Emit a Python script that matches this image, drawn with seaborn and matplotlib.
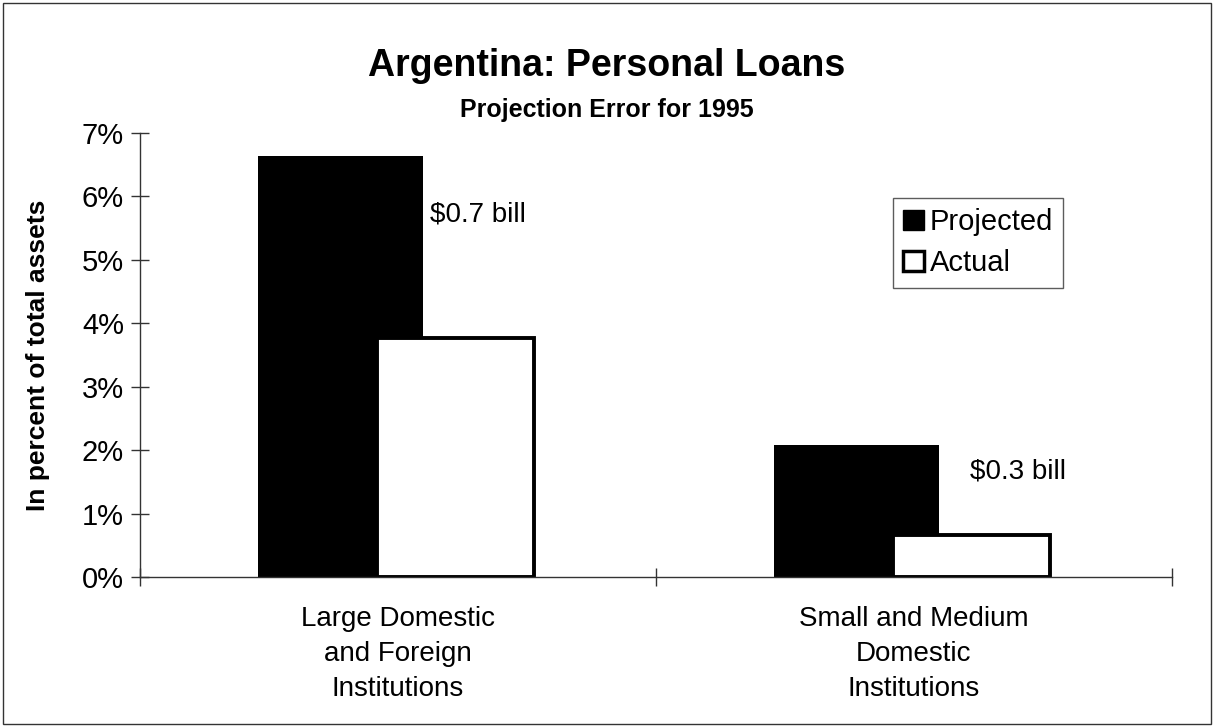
import matplotlib
matplotlib.use("Agg")
import matplotlib.pyplot as plt
import seaborn as sns
import numpy as np
from matplotlib.patches import Patch, Rectangle

categories = ["Large Domestic\nand Foreign\nInstitutions", "Small and Medium\nDomestic\nInstitutions"]
projected = [6.64, 2.08]
actual = [3.77, 0.67]
annotations = ["$0.7 bill", "$0.3 bill"]
yticks = [0, 1, 2, 3, 4, 5, 6, 7]

sns.set_theme(style="white")
plt.rcParams['font.family'] = ['Liberation Sans', 'DejaVu Sans']
plt.rcParams['text.color'] = 'black'
plt.rcParams['axes.labelcolor'] = 'black'
plt.rcParams['xtick.labelcolor'] = 'black'
plt.rcParams['ytick.labelcolor'] = 'black'

fig = plt.figure(figsize=(12.14, 7.27), dpi=100)
ax = fig.add_axes([140/1214, 1-577/727, (1172-140)/1214, (577-133)/727])

idx = np.arange(len(categories))
off = 0.111
sns.barplot(x=idx - off, y=projected, native_scale=True, width=0.32, color="black",
            saturation=1, edgecolor="black", linewidth=0, ax=ax, orient="x")
sns.barplot(x=idx + off, y=actual, native_scale=True, width=0.305, color="white",
            saturation=1, edgecolor="black", linewidth=2.8, ax=ax, orient="x")

ax.set_xlim(-0.5, 1.5)
ax.set_ylim(0, 7)
ax.set_yticks(yticks)
ax.set_yticklabels([f"{v}%" for v in yticks], fontsize=21, color="black")
ax.set_xticks(idx)
ax.set_xticklabels(categories, fontsize=20, linespacing=1.45, color="black")
ax.set_xticks([-0.5, 0.5, 1.5], minor=True)
ax.tick_params(axis="x", which="major", length=0, pad=21)
ax.tick_params(axis="x", which="minor", direction="inout", length=13, width=1, color="#333333", bottom=True)
ax.tick_params(axis="y", direction="inout", length=13, width=1, color="#333333", left=True, pad=5)
for s in ["top", "right"]:
    ax.spines[s].set_visible(False)
for s in ["left", "bottom"]:
    ax.spines[s].set_color("#333333")
    ax.spines[s].set_linewidth(1)
ax.set_xlabel("")
ax.set_ylabel("In percent of total assets", fontsize=19, fontweight="bold", color="black")
ax.yaxis.set_label_coords((50-140)/1032, 0.5)

ax.text(0.062, 5.71, annotations[0], fontsize=20, ha="left", va="center", color="black")
ax.text(1.108, 1.66, annotations[1], fontsize=20, ha="left", va="center", color="black")

handles = [Patch(facecolor="black", edgecolor="black", label="Projected"),
           Patch(facecolor="white", edgecolor="black", linewidth=2.5, label="Actual")]
leg = ax.legend(handles=handles, loc="upper left", bbox_to_anchor=((893-140)/1032, (577-198)/444),
                fontsize=21, frameon=True, fancybox=False, edgecolor="#333333",
                handlelength=0.7, handleheight=0.7, handletextpad=0.2, borderpad=0.35,
                labelspacing=0.45, borderaxespad=0)
leg.get_frame().set_linewidth(1)
for t in leg.get_texts():
    t.set_color("black")

fig.text(0.5, 1-66/727, "Argentina: Personal Loans", fontsize=27, fontweight="bold", ha="center", va="center", color="black")
fig.text(0.5, 1-110/727, "Projection Error for 1995", fontsize=18, fontweight="bold", ha="center", va="center", color="black")

fig.patches.append(Rectangle((3/1214, 3/727), 1-6/1214, 1-6/727, transform=fig.transFigure,
                             fill=False, edgecolor="#333333", linewidth=1))

fig.savefig("out.png", dpi=100)
